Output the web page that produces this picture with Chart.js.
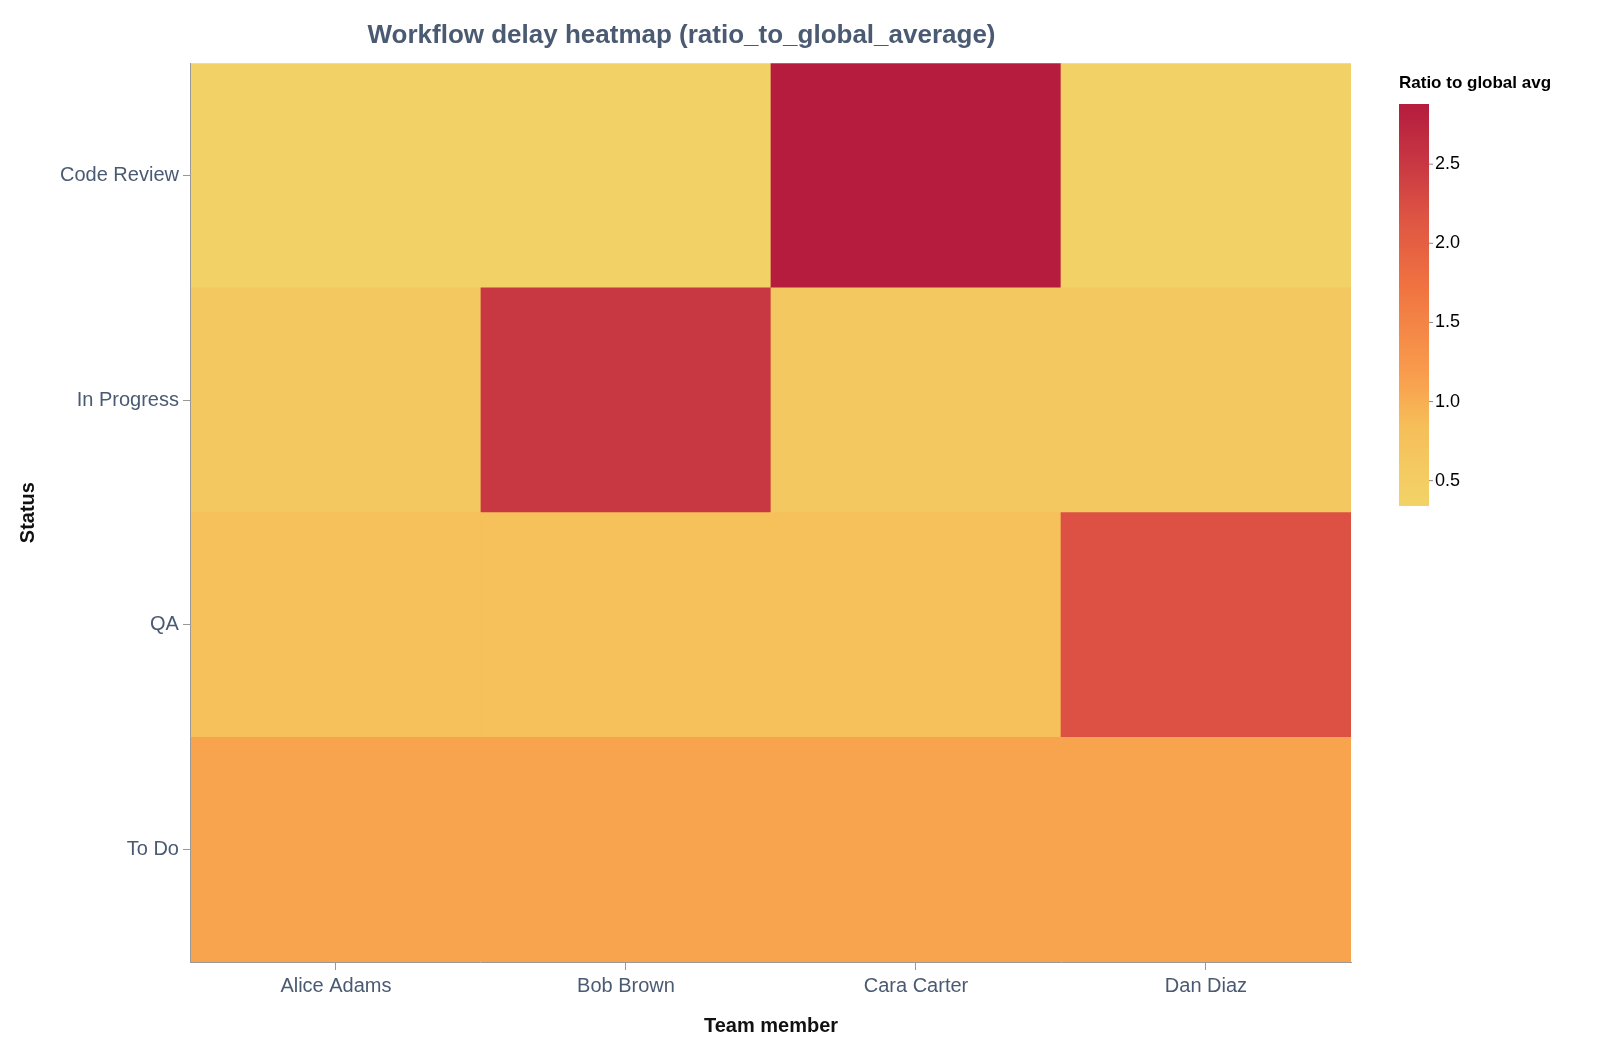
<!DOCTYPE html>
<html><head><meta charset="utf-8">
<script src="https://cdn.jsdelivr.net/npm/chart.js@4"></script>
<style>html,body{margin:0;padding:0;background:#fff}#wrap{width:1620px;height:1060px}</style>
</head><body><div id="wrap"><canvas id="c"></canvas></div>
<script>
const members = ["Alice Adams","Bob Brown","Cara Carter","Dan Diaz"];
const statuses = ["To Do","QA","In Progress","Code Review"]; // bottom to top
const toDo = [1.1,1.1,1.1,1.1];
const qa = [0.8,0.8,0.8,2.2];
const inProgress = [0.6,2.5,0.6,0.6];
const codeReview = [0.38,0.38,2.88,0.38];
const rows = [toDo, qa, inProgress, codeReview];
const legendTicks = [0.5,1.0,1.5,2.0,2.5];
const vmin = 0.34, vmax = 2.88;

const stops = [[0,[242,211,103]],[0.2,[246,190,89]],[0.32,[249,158,77]],[0.55,[240,114,64]],[0.72,[222,84,67]],[0.85,[200,56,66]],[1,[181,28,62]]];
function color(v){
  let t=Math.max(0,Math.min(1,(v-vmin)/(vmax-vmin)));
  for(let i=1;i<stops.length;i++){
    if(t<=stops[i][0]){const a=stops[i-1],b=stops[i];const f=(t-a[0])/(b[0]-a[0]);
      const c=a[1].map((x,k)=>Math.round(x+(b[1][k]-x)*f));return `rgb(${c})`;}
  }
  return `rgb(${stops[stops.length-1][1]})`;
}
const datasets = rows.map((vals,r)=>({
  label: statuses[r],
  data: vals.map(()=>[r,r+1]),
  backgroundColor: vals.map(color),
  borderWidth: 0, barPercentage:1, categoryPercentage:1, grouped:false
}));
const font='"Liberation Sans", Arial, sans-serif';
const colorbar={id:'cb',afterDraw(ch){
  const ctx=ch.ctx;const x=1399,w=30,top=104,bot=506;
  const g=ctx.createLinearGradient(0,bot,0,top);
  for(let i=0;i<=20;i++){g.addColorStop(i/20,color(vmin+(vmax-vmin)*i/20));}
  ctx.save();ctx.fillStyle=g;ctx.fillRect(x,top,w,bot-top);
  ctx.fillStyle='#000';ctx.font='bold 17px '+font;ctx.textBaseline='middle';
  ctx.fillText('Ratio to global avg',x,83);
  ctx.font='18px '+font;ctx.strokeStyle='#888';
  legendTicks.forEach(v=>{const y=bot-(v-vmin)/(vmax-vmin)*(bot-top);
    ctx.beginPath();ctx.moveTo(x+w,y);ctx.lineTo(x+w+4,y);ctx.stroke();
    ctx.fillText(v.toFixed(1),x+w+6,y);});
  ctx.restore();
}};
new Chart(document.getElementById('c'),{
  type:'bar',
  data:{labels:members,datasets},
  plugins:[colorbar],
  options:{responsive:true,maintainAspectRatio:false,animation:false,
    layout:{padding:{top:0,right:269,left:12,bottom:18}},
    plugins:{legend:{display:false},tooltip:{enabled:false},
      title:{display:true,text:'Workflow delay heatmap (ratio_to_global_average)',color:'#4a5a72',
        font:{family:font,size:26,weight:'bold'},padding:{top:20,bottom:12}}},
    scales:{
      x:{grid:{display:true,drawOnChartArea:false,drawTicks:true,tickLength:8,color:'#999',offset:false},
        border:{color:'#999'},
        ticks:{color:'#4a5a72',font:{family:font,size:20},padding:4},
        title:{display:true,text:'Team member',color:'#111',font:{family:font,size:20,weight:'bold'},padding:{top:12}}},
      y:{min:0,max:4,grid:{display:true,drawOnChartArea:false,drawTicks:true,tickLength:8,color:'#999'},border:{color:'#999'},
        afterBuildTicks(s){s.ticks=[0.5,1.5,2.5,3.5].map(v=>({value:v}));},
        ticks:{color:'#4a5a72',font:{family:font,size:20},padding:4,callback:(v)=>statuses[Math.floor(v)]},
        title:{display:true,text:'Status',color:'#111',font:{family:font,size:20,weight:'bold'},padding:{bottom:16}}}
    }}
});
</script></body></html>
